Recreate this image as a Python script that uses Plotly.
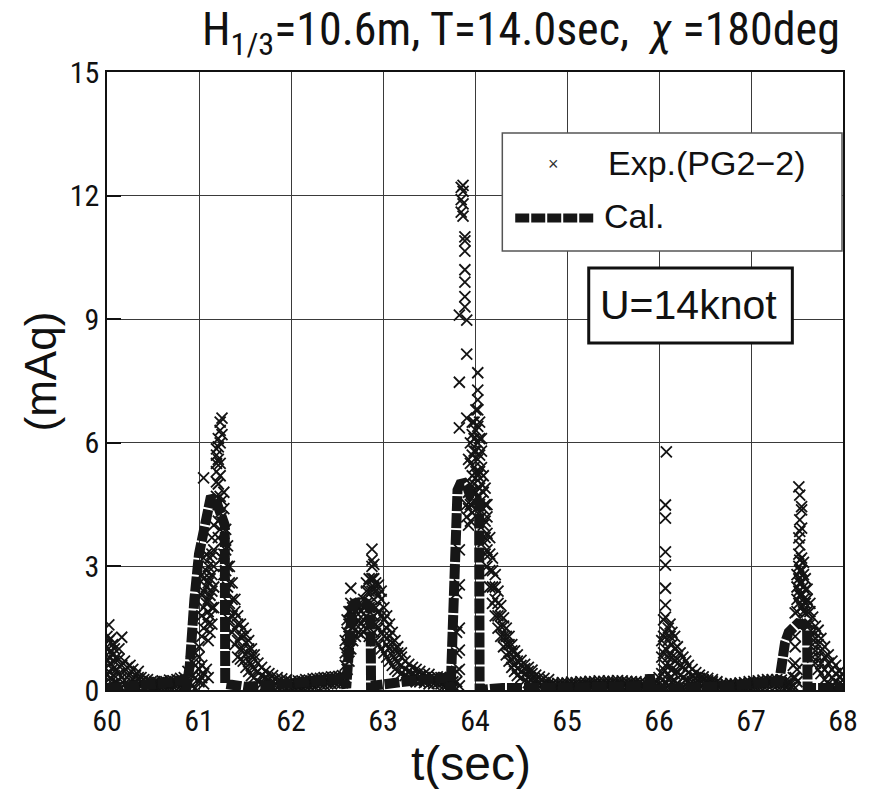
import plotly.graph_objects as go

# ---- Experimental pressure record (PG2-2): sample times and the readings at each time ----
exp_t = [
    60.00, 60.02, 60.04, 60.06, 60.08, 60.10, 60.13, 60.16, 60.19, 60.22, 60.25, 60.28,
    60.31, 60.34, 60.37, 60.40, 60.44, 60.48,
    60.52, 60.56, 60.60, 60.64, 60.68, 60.72, 60.76, 60.80, 60.84,
    60.88, 60.92, 60.96, 61.00, 61.03, 61.05, 61.08, 61.10, 61.12, 61.14, 61.16, 61.19,
    61.21, 61.23, 61.25, 61.27, 61.29, 61.31, 61.33, 61.36, 61.39, 61.42, 61.45, 61.48,
    61.51, 61.54, 61.57, 61.60, 61.64, 61.68, 61.72, 61.76, 61.80, 61.85, 61.90, 61.95,
    62.00, 62.04, 62.08, 62.12, 62.16, 62.20, 62.24, 62.28, 62.32, 62.36, 62.40, 62.44,
    62.48, 62.52, 62.56,
    62.59, 62.61, 62.63, 62.65, 62.67, 62.70, 62.73, 62.76, 62.79, 62.82, 62.85, 62.88,
    62.90, 62.92, 62.95, 62.98, 63.01, 63.04, 63.07, 63.10, 63.13, 63.16, 63.20, 63.24,
    63.28, 63.32, 63.36, 63.40, 63.45, 63.50,
    63.55, 63.59, 63.63, 63.67,
    63.70, 63.73, 63.76, 63.80, 63.83, 63.85, 63.87, 63.89, 63.91, 63.93, 63.95, 63.97,
    63.99, 64.01, 64.03, 64.05, 64.07, 64.09, 64.11, 64.13, 64.16, 64.19, 64.22, 64.25,
    64.28, 64.31, 64.34, 64.37, 64.40, 64.43, 64.46, 64.50, 64.54, 64.58, 64.62, 64.66,
    64.70, 64.75, 64.80,
    64.85, 64.90, 64.95, 65.00, 65.05, 65.10, 65.15, 65.20, 65.25, 65.30, 65.35, 65.40,
    65.45, 65.50, 65.55, 65.60, 65.65, 65.70, 65.75, 65.80, 65.85, 65.90, 65.95,
    66.00, 66.03, 66.05, 66.07, 66.08, 66.10, 66.12, 66.14, 66.17, 66.20, 66.23, 66.26,
    66.29, 66.32, 66.36, 66.40, 66.44, 66.48, 66.53, 66.58, 66.63,
    66.68, 66.73, 66.78, 66.83, 66.88, 66.93, 66.98, 67.03, 67.08, 67.13, 67.18, 67.23,
    67.28, 67.33, 67.38, 67.42,
    67.46, 67.48, 67.50, 67.52, 67.53, 67.55, 67.57, 67.59, 67.61, 67.64, 67.67, 67.70,
    67.73, 67.76, 67.80, 67.84, 67.88, 67.92, 67.96, 68.00,
]
exp_p = [
    [0.05, 0.35, 0.7, 1.05, 1.3], [0.1, 0.45, 0.8, 1.2, 1.58], [0.0, 0.3, 0.65, 0.95, 1.25],
    [0.15, 0.5, 0.85, 1.1], [0.05, 0.35, 0.7, 1.0], [0.2, 0.5, 0.8], [0.1, 0.4, 0.75, 1.0],
    [0.05, 0.3, 0.6, 1.28], [0.15, 0.45, 0.7], [0.05, 0.3, 0.55], [0.1, 0.4, 0.6],
    [0.05, 0.25, 0.5], [0.1, 0.2, 0.35], [0.05, 0.3, 0.45], [0.1, 0.2, 0.3], [0.05, 0.15, 0.25],
    [0.1, 0.18, 0.25], [0.05, 0.12, 0.2],
    [0.08, 0.14, 0.2], [0.05, 0.12, 0.18], [0.1, 0.16, 0.22], [0.07, 0.14, 0.2],
    [0.1, 0.17, 0.24], [0.08, 0.15, 0.22], [0.12, 0.18, 0.25], [0.1, 0.2, 0.28],
    [0.12, 0.2, 0.3],
    [0.0, 0.2, 0.45], [0.1, 0.35, 0.7], [0.05, 0.3, 0.6, 0.9], [0.2, 0.5, 0.8, 1.05],
    [0.3, 0.6, 1.3, 1.8, 2.3, 2.8], [0.15, 0.4, 1.5, 2.0, 2.4, 2.7, 3.2, 5.15],
    [0.5, 1.7, 2.1, 2.5, 2.9, 3.3], [0.3, 1.2, 1.6, 1.9, 2.2, 2.6, 3.0],
    [1.4, 1.8, 2.3, 2.7, 3.2], [1.6, 2.0, 2.4, 2.8, 3.3, 3.7], [2.0, 2.5, 3.0, 3.4, 4.0],
    [4.7, 5.05, 5.3, 5.5, 5.7, 5.85], [3.7, 4.1, 4.5, 5.0, 5.6, 5.9, 6.1],
    [3.9, 4.3, 4.7, 5.2, 5.5, 6.0, 6.3, 6.5], [3.2, 3.6, 4.2, 4.6, 6.2, 6.6],
    [2.8, 3.3, 3.8, 4.4, 4.8], [2.4, 2.9, 3.4, 3.9], [2.0, 2.5, 3.0, 3.5],
    [1.7, 2.1, 2.6, 3.0], [1.4, 1.8, 2.2, 2.6], [1.1, 1.5, 1.9, 2.2], [0.8, 1.2, 1.6, 1.8],
    [0.75, 1.0, 1.3, 1.6], [0.7, 1.0, 1.3, 1.5],
    [0.55, 0.85, 1.15, 1.35], [0.45, 0.7, 1.0, 1.2], [0.35, 0.6, 0.85, 1.0],
    [0.3, 0.5, 0.75, 0.85], [0.2, 0.45, 0.65], [0.15, 0.35, 0.55], [0.12, 0.3, 0.45],
    [0.1, 0.25, 0.4], [0.08, 0.22, 0.35], [0.05, 0.2, 0.3], [0.05, 0.18, 0.27],
    [0.04, 0.15, 0.25],
    [0.05, 0.12, 0.2], [0.06, 0.13, 0.2], [0.08, 0.15, 0.22], [0.07, 0.15, 0.22],
    [0.1, 0.17, 0.25], [0.1, 0.17, 0.24], [0.12, 0.2, 0.27], [0.12, 0.2, 0.28],
    [0.14, 0.21, 0.28], [0.13, 0.22, 0.3], [0.15, 0.22, 0.3], [0.15, 0.24, 0.32],
    [0.17, 0.25, 0.32], [0.17, 0.25, 0.33], [0.18, 0.27, 0.35],
    [0.3, 0.6, 0.9, 1.2], [0.5, 0.8, 1.1, 1.4, 1.7], [0.7, 1.0, 1.3, 1.6, 1.9],
    [1.0, 1.3, 1.6, 1.9, 2.1, 2.47], [1.2, 1.5, 1.8, 2.0], [1.3, 1.6, 1.9, 2.1],
    [1.4, 1.7, 2.0], [1.35, 1.6, 1.9], [1.4, 1.7, 2.0, 2.2], [1.5, 1.8, 2.1, 2.4, 2.6],
    [1.3, 1.7, 2.0, 2.4, 2.7], [1.6, 2.0, 2.4, 2.7, 3.0, 3.15, 3.42],
    [1.4, 1.8, 2.2, 2.5, 2.7, 3.05], [1.2, 1.6, 2.0, 2.4, 2.6], [1.1, 1.5, 1.9, 2.3, 2.55],
    [1.0, 1.4, 1.8, 2.2, 2.4], [0.9, 1.3, 1.7, 2.0], [0.8, 1.1, 1.5, 1.8],
    [0.7, 1.0, 1.3, 1.6], [0.6, 0.85, 1.15, 1.4], [0.5, 0.75, 1.0, 1.2],
    [0.45, 0.65, 0.9, 1.05], [0.4, 0.6, 0.8, 0.9], [0.35, 0.5, 0.7],
    [0.3, 0.45, 0.62], [0.25, 0.4, 0.55], [0.2, 0.35, 0.5], [0.2, 0.33, 0.45],
    [0.18, 0.3, 0.4], [0.15, 0.28, 0.38],
    [0.15, 0.22, 0.3], [0.16, 0.24, 0.32], [0.15, 0.22, 0.3], [0.12, 0.2, 0.3],
    [0.0, 0.12, 0.25], [0.1, 0.2, 0.3], [0.05, 0.12, 0.2], [0.2, 0.45, 0.9, 1.4, 2.35],
    [0.1, 0.5, 0.97, 1.5, 2.55, 3.4, 6.36, 7.47, 9.1], [11.6, 11.9, 12.2],
    [11.5, 11.8, 12.1, 12.25], [10.9, 11.0, 10.65, 10.2, 9.9, 9.55, 9.3],
    [4.2, 4.5, 8.98, 8.15, 6.6], [4.0, 4.4, 4.8, 5.6],
    [4.1, 4.5, 5.0, 5.5, 6.0], [4.3, 4.8, 5.2, 5.7, 6.2, 6.5],
    [4.6, 5.0, 5.4, 5.8, 6.1, 6.5], [4.4, 4.8, 5.3, 5.8, 6.3, 6.8],
    [4.7, 5.2, 5.6, 6.0, 6.4, 6.8, 7.04, 7.28, 7.7], [4.5, 4.9, 5.3, 5.7, 6.1, 6.5],
    [4.2, 4.6, 5.0, 5.4, 5.8, 6.1], [3.6, 4.0, 4.4, 4.8, 5.2], [3.3, 3.7, 4.1, 4.5, 4.9],
    [3.0, 3.4, 3.8, 4.2, 4.5], [2.5, 2.9, 3.3, 3.7], [2.1, 2.5, 2.9, 3.2],
    [1.8, 2.2, 2.5, 2.8], [1.5, 1.8, 2.1, 2.4],
    [1.3, 1.55, 1.8, 2.05], [1.05, 1.3, 1.55, 1.75], [0.85, 1.1, 1.3, 1.5],
    [0.7, 0.9, 1.1, 1.3], [0.55, 0.75, 0.95, 1.1], [0.45, 0.62, 0.8, 0.95],
    [0.35, 0.52, 0.7, 0.85], [0.3, 0.45, 0.6, 0.72], [0.22, 0.38, 0.52, 0.62],
    [0.18, 0.32, 0.45, 0.55], [0.12, 0.28, 0.4, 0.48], [0.1, 0.24, 0.36],
    [0.08, 0.2, 0.32], [0.05, 0.18, 0.28], [0.05, 0.15, 0.25],
    [0.04, 0.1, 0.17], [0.02, 0.09, 0.16], [0.04, 0.11, 0.18], [0.03, 0.1, 0.17],
    [0.05, 0.12, 0.19], [0.04, 0.11, 0.18], [0.06, 0.13, 0.2], [0.05, 0.12, 0.19],
    [0.07, 0.14, 0.21], [0.06, 0.13, 0.2], [0.08, 0.15, 0.22], [0.07, 0.14, 0.21],
    [0.08, 0.15, 0.22], [0.07, 0.14, 0.21], [0.09, 0.16, 0.23], [0.08, 0.15, 0.22],
    [0.07, 0.14, 0.21], [0.06, 0.13, 0.2], [0.05, 0.12, 0.2], [0.04, 0.11, 0.19],
    [0.03, 0.1, 0.18], [0.02, 0.09, 0.16], [0.0, 0.07, 0.14],
    [0.0, 0.15, 0.3], [0.05, 0.4, 0.8, 1.2], [0.1, 0.5, 0.9, 1.3, 1.7],
    [0.2, 0.6, 1.0, 1.4, 1.77, 2.06, 2.47, 3.03, 3.35, 4.17, 4.49], [5.78],
    [0.1, 0.4, 0.8, 1.2, 1.5], [0.0, 0.3, 0.6, 0.9, 1.3, 1.6], [0.2, 0.5, 0.8, 1.1, 1.4],
    [0.1, 0.4, 0.7, 1.0, 1.3], [0.15, 0.45, 0.75, 1.05], [0.1, 0.35, 0.6, 0.9],
    [0.05, 0.3, 0.55, 0.8], [0.05, 0.25, 0.5, 0.7], [0.05, 0.22, 0.42, 0.6],
    [0.04, 0.2, 0.35, 0.5], [0.03, 0.18, 0.3, 0.42], [0.03, 0.16, 0.28, 0.36],
    [0.02, 0.15, 0.25, 0.32], [0.02, 0.14, 0.22, 0.28], [0.02, 0.13, 0.2, 0.25],
    [0.02, 0.12, 0.2],
    [0.03, 0.09, 0.15], [0.04, 0.09, 0.14], [0.05, 0.1, 0.16], [0.05, 0.1, 0.15],
    [0.06, 0.12, 0.17], [0.07, 0.13, 0.18], [0.08, 0.14, 0.2], [0.09, 0.15, 0.21],
    [0.1, 0.16, 0.22], [0.1, 0.17, 0.24], [0.11, 0.18, 0.25], [0.12, 0.19, 0.25],
    [0.1, 0.18, 0.25], [0.1, 0.17, 0.24], [0.08, 0.15, 0.22], [0.05, 0.12, 0.2],
    [0.1, 0.3, 0.6], [0.05, 0.3, 0.65, 1.05, 1.3, 1.87], [0.2, 0.5, 1.9, 2.2, 2.5, 2.8],
    [2.1, 2.4, 2.7, 3.0, 3.3, 3.69, 4.93], [2.3, 2.6, 2.9, 3.15, 3.52, 3.85, 4.13, 4.73],
    [2.0, 2.3, 2.6, 2.9, 3.2, 3.93, 4.37, 4.45], [1.9, 2.2, 2.5, 2.8, 3.1],
    [1.87, 2.1, 2.43, 2.7], [1.6, 1.9, 2.2, 2.45], [1.3, 1.6, 1.9, 2.1],
    [0.8, 1.1, 1.4, 1.77], [0.65, 0.95, 1.25, 1.55], [0.5, 0.8, 1.1, 1.45],
    [0.4, 0.65, 0.95, 1.25], [0.25, 0.5, 0.8, 1.05], [0.15, 0.4, 0.65, 0.85],
    [0.1, 0.3, 0.5, 0.7], [0.05, 0.2, 0.4, 0.6], [0.02, 0.15, 0.32, 0.45],
    [0.0, 0.12, 0.25, 0.38],
]

# ---- Calculated pressure history ----
cal_t = [
    60.00, 60.20, 60.40, 60.60, 60.84, 60.86, 60.90, 60.92, 60.95, 61.00, 61.06, 61.13,
    61.20, 61.24, 61.28, 61.285, 61.50, 61.80, 62.00, 62.30, 62.57,
    62.60, 62.62, 62.64, 62.66, 62.69, 62.73, 62.78, 62.82, 62.865, 62.87,
    63.00, 63.30, 63.60, 63.70,
    63.735, 63.75, 63.76, 63.775, 63.79, 63.81, 63.84, 63.88, 63.92, 63.95, 64.00, 64.045,
    64.05, 64.30, 64.80, 65.30, 65.80, 65.89, 65.90, 65.91,
    66.20, 66.80, 67.25, 67.30, 67.32, 67.34, 67.37, 67.41, 67.46, 67.51, 67.56, 67.61,
    67.615, 67.80, 68.00,
]
cal_p = [
    0.05, 0.08, 0.12, 0.16, 0.25, 0.0, 0.6, 1.4, 2.2, 3.3, 4.1, 4.7,
    4.5, 4.2, 4.0, 0.15, 0.08, 0.12, 0.15, 0.2, 0.28,
    0.05, 0.8, 1.45, 1.9, 2.1, 2.15, 2.15, 2.1, 2.0, 0.1,
    0.15, 0.22, 0.28, 0.3,
    0.0, 1.0, 2.2, 3.4, 4.3, 4.85, 5.0, 5.02, 4.9, 4.7, 4.6, 4.55,
    0.0, 0.05, 0.05, 0.1, 0.12, 0.1, 0.38, 0.0,
    0.05, 0.1, 0.2, 0.2, 0.4, 0.8, 1.15, 1.4, 1.55, 1.62, 1.6, 1.5,
    0.05, 0.05, 0.05,
]

x_ticks = [60, 61, 62, 63, 64, 65, 66, 67, 68]
y_ticks = [0, 3, 6, 9, 12, 15]

exp_x = [t for t, col in zip(exp_t, exp_p) for _ in col]
exp_y = [p for col in exp_p for p in col]

# plot-area geometry in pixels (used to place the hand-drawn legend and boxes)
W, H = 870, 789
L, R, T, B = 107, 22, 72, 99
PW, PH = W - L - R, H - T - B


def px(x):
    return (x - L) / PW


def py(y):
    return (H - B - y) / PH


SANS = "Liberation Sans, Arial, sans-serif"
NARROW = "Roboto Condensed, Liberation Sans, sans-serif"

fig = go.Figure()
fig.add_trace(go.Scatter(
    x=exp_x, y=exp_y, mode="markers", name="Exp.(PG2−2)", showlegend=False,
    marker=dict(symbol="x-thin", size=11, line=dict(width=1.8, color="#141414"),
                color="#141414"),
))
fig.add_trace(go.Scatter(
    x=cal_t, y=cal_p, mode="lines", name="Cal.", showlegend=False,
    line=dict(color="#161616", width=10, dash="15px,2px"),
))

shapes = [
    # legend frame
    dict(type="rect", xref="paper", yref="paper", x0=px(505), x1=px(847), y0=py(251), y1=py(133),
         line=dict(color="#555555", width=1.5), fillcolor="white", layer="above"),
    # Cal. sample line
    dict(type="line", xref="paper", yref="paper", x0=px(518), x1=px(597), y0=py(218), y1=py(218),
         line=dict(color="#161616", width=9, dash="14px,2px"), layer="above"),
    # speed box
    dict(type="rect", xref="paper", yref="paper", x0=px(592), x1=px(797), y0=py(343), y1=py(268),
         line=dict(color="#111111", width=3), fillcolor="white", layer="above"),
]

annotations = [
    dict(text="×", xref="paper", yref="paper", x=px(557), y=py(164), showarrow=False,
         font=dict(family=SANS, size=18, color="#333333"), xanchor="center", yanchor="middle"),
    dict(text="Exp.(PG2−2)", xref="paper", yref="paper", x=px(609), y=py(163), showarrow=False,
         font=dict(family=SANS, size=34, color="#111111"), xanchor="left", yanchor="middle"),
    dict(text="Cal.", xref="paper", yref="paper", x=px(605), y=py(216), showarrow=False,
         font=dict(family=SANS, size=34, color="#111111"), xanchor="left", yanchor="middle"),
    dict(text="U=14knot", xref="paper", yref="paper", x=px(692), y=py(305), showarrow=False,
         font=dict(family=SANS, size=41, color="#111111"), xanchor="center", yanchor="middle"),
    dict(text="H<sub>1/3</sub>=10.6m, T=14.0sec,  <i>χ</i> =180deg", xref="paper", yref="paper",
         x=px(524), y=py(32), showarrow=False,
         font=dict(family=NARROW, size=46, color="#111111"), xanchor="center", yanchor="middle"),
    # axis titles
    dict(text="(mAq)", xref="paper", yref="paper", x=px(40), y=py(371), showarrow=False,
         textangle=-90, font=dict(family=SANS, size=44, color="#111111"),
         xanchor="center", yanchor="middle"),
    dict(text="t(sec)", xref="paper", yref="paper", x=px(473), y=py(763), showarrow=False,
         font=dict(family=SANS, size=48, color="#111111"), xanchor="center", yanchor="middle"),
]

fig.update_layout(
    width=W, height=H,
    margin=dict(l=L, r=R, t=T, b=B, pad=0),
    paper_bgcolor="white", plot_bgcolor="white",
    shapes=shapes, annotations=annotations,
    showlegend=False,
    xaxis=dict(
        range=[60, 68], tickvals=x_ticks, ticktext=[str(v) for v in x_ticks],
        showgrid=True, gridcolor="#3a3a3a", gridwidth=1, zeroline=False,
        showline=True, linecolor="#111111", linewidth=1.5, mirror=True,
        ticks="", ticklabelstandoff=3,
        tickfont=dict(family=NARROW, size=30, color="#111111"),
    ),
    yaxis=dict(
        range=[0, 15], tickvals=y_ticks, ticktext=[str(v) for v in y_ticks],
        showgrid=True, gridcolor="#3a3a3a", gridwidth=1, zeroline=False,
        showline=True, linecolor="#111111", linewidth=1.5, mirror=True,
        ticks="inside", ticklen=14, tickwidth=2, tickcolor="#111111",
        tickfont=dict(family=NARROW, size=30, color="#111111"),
    ),
)

fig.write_html("out.html")
